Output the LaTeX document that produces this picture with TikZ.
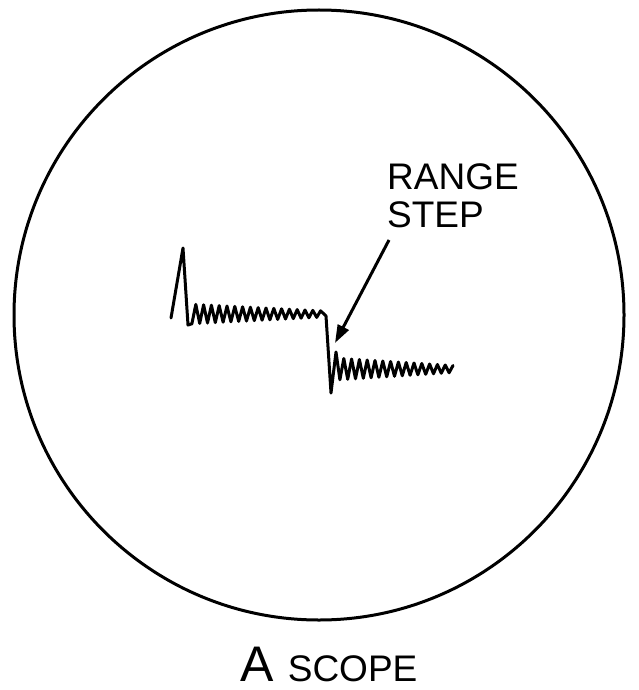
\documentclass[tikz,border=0pt]{standalone}
\usepackage{fontspec}
\setmainfont{Liberation Sans}
\usetikzlibrary{arrows.meta}
\begin{document}
\begin{tikzpicture}[x=1pt,y=-1pt,trace/.style={line width=3pt,line join=round,line cap=round}]
\useasboundingbox (0,0) rectangle (639,690);
\node[draw,circle,line width=3pt,minimum size=610pt,inner sep=0] (scope) at (319,315) {};
\node[anchor=north west,align=left,font=\fontsize{37}{38}\selectfont,inner sep=0] (lbl) at (387,163) {RANGE\\STEP};
\node[font=\fontsize{50}{52}\selectfont,inner sep=0] (cap) at (329,664) {A {\fontsize{37}{40}\selectfont SCOPE}};
\draw[trace] (171,318) -- (183,248) -- (188,325)
  \foreach \i in {1,...,34} { -- ({188+\i*3.9},{314+(mod(\i,2)*2-1)*(10-\i*0.2)}) }
  -- (326,316) -- (331,393) -- (336,352)
  \foreach \i in {1,...,30} { -- ({336+\i*3.9},{369+(mod(\i,2)*2-1)*(11-\i*0.25)}) };
\coordinate (tip) at (335,343);
\draw[line width=3pt,-{Triangle[length=18pt,width=12pt]}] (389,240) -- (tip);
\end{tikzpicture}
\end{document}
